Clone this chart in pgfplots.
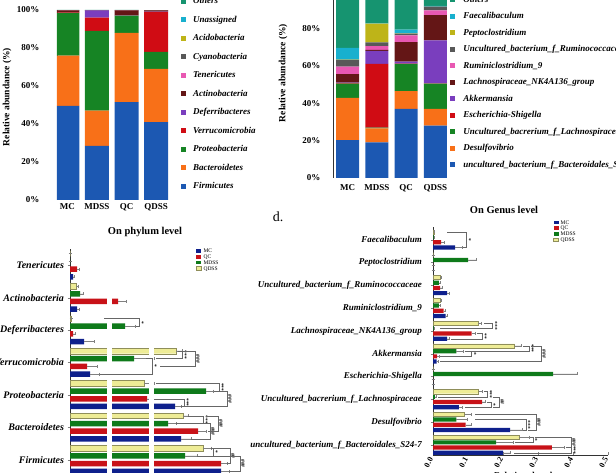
\documentclass[border=0pt]{standalone}
\usepackage{pgfplots}
\pgfplotsset{compat=1.18}
\usepackage{fontspec}
\setmainfont{Liberation Serif}
\definecolor{cFirm}{RGB}{28,88,178}
\definecolor{cBact}{RGB}{248,112,24}
\definecolor{cProt}{RGB}{22,132,36}
\definecolor{cVerr}{RGB}{208,12,20}
\definecolor{cDefe}{RGB}{122,62,190}
\definecolor{cActi}{RGB}{100,22,22}
\definecolor{cTene}{RGB}{232,88,178}
\definecolor{cCyan}{RGB}{88,88,88}
\definecolor{cAcid}{RGB}{190,180,24}
\definecolor{cUnas}{RGB}{24,176,206}
\definecolor{cOthe}{RGB}{22,148,112}
\definecolor{cMC}{RGB}{14,32,140}
\definecolor{cQC}{RGB}{200,18,24}
\definecolor{cMDSS}{RGB}{14,122,26}
\definecolor{cQDSS}{RGB}{238,236,150}
\newcommand\bi{\bfseries\itshape}
% bracket: xv, xa, ya, xb, yb, label
\newcommand\brk[6]{%
  \draw[black!60,line width=0.4pt] (axis cs:#2,#3) -- (axis cs:#1,#3) -- (axis cs:#1,#5) -- (axis cs:#4,#5);
  \path (axis cs:#1,#3) -- (axis cs:#1,#5) node[midway,rotate=-90,anchor=south,inner sep=0.8pt,font=\fontsize{5.5}{5}\selectfont\bfseries] {#6};}
\pgfplotsset{
  sq/.style={legend image code/.code={\path[##1,draw=none] (0pt,-2.5pt) rectangle (5pt,2.5pt);}},
  sqs/.style={legend image code/.code={\path[##1] (0pt,-1.8pt) rectangle (5pt,1.8pt);}},
  eb/.style={error bars/.cd, x dir=plus, x explicit, error bar style={gray,line width=0.4pt}, error mark options={rotate=90,gray,mark size=1.5pt}},
}
\begin{document}
\begin{tikzpicture}[x=1pt,y=1pt]
\useasboundingbox (0pt,0pt) rectangle (616pt,473pt);
\clip (0pt,0pt) rectangle (616pt,473pt);

% ---------- Panel A: phylum stacked ----------
\begin{axis}[at={(57pt,273pt)}, anchor=south west, scale only axis, width=114pt, height=190pt,
  ybar stacked, bar width=24pt, xmin=-0.35, xmax=3.5, ymin=0, ymax=100,
  axis lines*=left, x axis line style={draw=none},
  xtick={0,1,2,3}, xticklabels={MC,MDSS,QC,QDSS}, xtick style={draw=none},
  ytick={0,20,40,60,80,100}, yticklabels={0\%,20\%,40\%,60\%,80\%,100\%}, ytick style={draw=none},
  yticklabel style={xshift=-14pt},
  tick label style={font=\fontsize{9}{10}\selectfont\bfseries},
  axis line style={line width=0.8pt, black!80},
  legend reversed, legend cell align=left, sq,
  legend style={at={(1.06,1.08)}, anchor=north west, draw=none, fill=none,
    font=\fontsize{9}{10}\selectfont\bi, row sep=9.5pt, column sep=7pt,
    nodes={inner sep=0pt, text height=7pt, text depth=2pt}},
]
\addplot[fill=cFirm,draw=none] coordinates {(0,49.5) (1,28.5) (2,51.5) (3,41)};
\addlegendentry{Firmicutes}
\addplot[fill=cBact,draw=none] coordinates {(0,26.5) (1,18.5) (2,36.5) (3,28)};
\addlegendentry{Bacteroidetes}
\addplot[fill=cProt,draw=none] coordinates {(0,22.5) (1,42) (2,9) (3,9)};
\addlegendentry{Proteobacteria}
\addplot[fill=cVerr,draw=none] coordinates {(0,0.2) (1,7) (2,0.1) (3,21)};
\addlegendentry{Verrucomicrobia}
\addplot[fill=cDefe,draw=none] coordinates {(0,0.1) (1,3.8) (2,0.1) (3,0.1)};
\addlegendentry{Deferribacteres}
\addplot[fill=cActi,draw=none] coordinates {(0,1) (1,0.1) (2,2.6) (3,0.7)};
\addlegendentry{Actinobacteria}
\addplot[fill=cTene,draw=none] coordinates {(0,0.1) (1,0.05) (2,0.1) (3,0.05)};
\addlegendentry{Tenericutes}
\addplot[fill=cCyan,draw=none] coordinates {(0,0.05) (1,0.02) (2,0.02) (3,0.02)};
\addlegendentry{Cyanobacteria}
\addplot[fill=cAcid,draw=none] coordinates {(0,0.01) (1,0.01) (2,0.01) (3,0.01)};
\addlegendentry{Acidobacteria}
\addplot[fill=cUnas,draw=none] coordinates {(0,0.01) (1,0.01) (2,0.01) (3,0.01)};
\addlegendentry{Unassigned}
\addplot[fill=cOthe,draw=none] coordinates {(0,0.03) (1,0.02) (2,0.06) (3,0.06)};
\addlegendentry{Others}
\end{axis}
\node[rotate=90, font=\fontsize{9.5}{10}\selectfont\bfseries] at (7pt,376pt) {Relative abundance (\%)};
\node[font=\fontsize{10.5}{11}\selectfont\bfseries] at (145pt,241pt) {On phylum level};
\node[font=\fontsize{14}{15}\selectfont] at (278pt,256pt) {d.};

% ---------- Panel B: genus stacked ----------
\begin{axis}[at={(333pt,295pt)}, anchor=south west, scale only axis, width=117pt, height=187pt,
  ybar stacked, bar width=23pt, xmin=-0.5, xmax=3.5, ymin=0, ymax=100,
  axis lines*=left, x axis line style={draw=none},
  xtick={0,1,2,3}, xticklabels={MC,MDSS,QC,QDSS}, xtick style={draw=none},
  xticklabel style={yshift=-3pt},
  ytick={0,20,40,60,80,100}, yticklabels={0\%,20\%,40\%,60\%,80\%,100\%}, ytick style={draw=none},
  yticklabel style={xshift=-9pt},
  tick label style={font=\fontsize{9}{10}\selectfont\bfseries},
  axis line style={line width=0.8pt, black!80},
  legend reversed, legend cell align=left, sq,
  legend style={at={(0.975,0.99)}, anchor=north west, draw=none, fill=none,
    font=\fontsize{9}{10}\selectfont\bi, row sep=7.5pt, column sep=8pt,
    nodes={inner sep=0pt, text height=7pt, text depth=2pt}},
]
\addplot[fill=cFirm,draw=none] coordinates {(0,20.2) (1,19) (2,37) (3,28)};
\addlegendentry{uncultured\_bacterium\_f\_Bacteroidales\_S24-7}
\addplot[fill=cBact,draw=none] coordinates {(0,22.6) (1,7.5) (2,9.5) (3,9)};
\addlegendentry{Desulfovibrio}
\addplot[fill=cProt,draw=none] coordinates {(0,7.6) (1,0.5) (2,14.5) (3,13.5)};
\addlegendentry{Uncultured\_bacrerium\_f\_Lachnospiraceae}
\addplot[fill=cVerr,draw=none] coordinates {(0,0.3) (1,34) (2,0.2) (3,0.1)};
\addlegendentry{Escherichia-Shigella}
\addplot[fill=cDefe,draw=none] coordinates {(0,0.3) (1,7) (2,1) (3,23)};
\addlegendentry{Akkermansia}
\addplot[fill=cActi,draw=none] coordinates {(0,4.5) (1,0.5) (2,10.5) (3,13.5)};
\addlegendentry{Lachnospiraceae\_NK4A136\_group}
\addplot[fill=cTene,draw=none] coordinates {(0,4) (1,2) (2,3.5) (3,2.5)};
\addlegendentry{Ruminiclostridium\_9}
\addplot[fill=cCyan,draw=none] coordinates {(0,3.7) (1,2) (2,1) (3,2)};
\addlegendentry{Uncultured\_bacterium\_f\_Ruminococcaceae}
\addplot[fill=cAcid,draw=none] coordinates {(0,0.1) (1,10) (2,0.1) (3,0.1)};
\addlegendentry{Peptoclostridium}
\addplot[fill=cUnas,draw=none] coordinates {(0,6.3) (1,0.2) (2,2) (3,0.3)};
\addlegendentry{Faecalibaculum}
\addplot[fill=cOthe,draw=none] coordinates {(0,30.4) (1,17.3) (2,20.7) (3,8)};
\addlegendentry{Others}
\end{axis}
\node[rotate=90, font=\fontsize{9.5}{10}\selectfont\bfseries] at (283pt,400pt) {Relative abundance (\%)};
\node[font=\fontsize{10.5}{11}\selectfont\bfseries] at (504pt,263pt) {On Genus level};

% ---------- Panel C: phylum bars ----------
\begin{axis}[at={(70pt,-3pt)}, anchor=south west, scale only axis, width=230pt, height=227pt,
  xbar=2.2pt, bar width=5.5pt, xmin=0, xmax=230, ymin=-0.5, ymax=6.5,
  axis lines*=left, x axis line style={draw=none}, xtick=\empty,
  ytick={0,...,6},
  yticklabels={Firmicutes,Bacteroidetes,Proteobacteria,Verrucomicrobia,Deferribacteres,Actinobacteria,Tenericutes},
  yticklabel style={font=\fontsize{10}{11}\selectfont\bi},
  major tick length=2.5pt, axis line style={black!80}, clip=false,
  legend cell align=left, sqs,
  legend style={at={(0.535,1.01)}, anchor=north west, draw=none, fill=none,
    font=\fontsize{5.5}{6}\selectfont, row sep=1.2pt, column sep=2pt,
    nodes={inner sep=0pt, text height=4pt, text depth=0.5pt}},
]
\addplot[fill=cMC,draw=none,eb] coordinates {(151,0)+-(8,0) (111,1)+-(10,0) (105,2)+-(6,0) (20,3)+-(9,0) (14,4)+-(10,0) (7,5)+-(2,0) (3,6)+-(1,0)};
\addlegendentry{MC}
\addplot[fill=cQC,draw=none,eb] coordinates {(151,0)+-(6,0) (128,1)+-(8,0) (77,2)+-(5,0) (17,3)+-(10,0) (3,4)+-(2,0) (48,5)+-(8,0) (7,6)+-(2,0)};
\addlegendentry{QC}
\addplot[fill=cMDSS,draw=none,eb] coordinates {(115,0)+-(12,0) (98,1)+-(8,0) (136,2)+-(7,0) (64,3)+-(20,0) (55,4)+-(10,0) (10,5)+-(3,0) (0,6)+-(0,0)};
\addlegendentry{MDSS}
\addplot[fill=cQDSS,draw=cQDSS!60!black,line width=0.3pt,eb] coordinates {(133,0)+-(8,0) (113,1)+-(5,0) (74,2)+-(10,0) (106,3)+-(6,0) (1,4)+-(0,0) (6,5)+-(2,0) (0,6)+-(0,0)};
\addlegendentry{QDSS}
\fill[white] (axis cs:37,-0.5) rectangle (axis cs:41.5,6.45);
\fill[white] (axis cs:79,-0.5) rectangle (axis cs:83.5,6.45);
\brk{69}{34}{4.355}{66}{4.118}{*}
\brk{112}{108}{3.355}{86}{3.118}{***}
\brk{125}{113}{3.355}{90}{2.882}{\#\#\#}
\brk{82}{76}{3.118}{30}{2.645}{*}
\brk{149}{86}{2.355}{144}{2.118}{***}
\brk{157}{144}{2.118}{112}{1.645}{\#\#\#}
\brk{114}{84}{1.882}{111}{1.645}{***}
\brk{133}{118}{1.355}{106}{1.118}{***}
\brk{140}{106}{1.118}{121}{0.645}{\#\#\#}
\brk{148}{136}{1.355}{138}{0.882}{\#\#\#}
\brk{143}{141}{0.355}{127}{0.118}{*}
\brk{160}{143}{0.355}{157}{-0.118}{\#\#}
\brk{170}{128}{0.118}{159}{-0.355}{\#\#\#}
\end{axis}

% ---------- Panel D: genus bars ----------
\begin{axis}[at={(433pt,18pt)}, anchor=south west, scale only axis, width=175pt, height=227.8pt,
  xbar=1pt, bar width=4.2pt, xmin=0, xmax=0.5, ymin=-0.44, ymax=9.55,
  axis lines*=left, axis line style={black!80}, clip=false,
  xtick={0,0.1,0.2,0.3,0.4,0.5}, xticklabels={0.0,0.1,0.2,0.3,0.4,0.5},
  xticklabel style={rotate=60, anchor=east, font=\fontsize{8}{9}\selectfont\bfseries},
  ytick={0,...,9},
  yticklabels={uncultured\_bacterium\_f\_Bacteroidales\_S24-7,Desulfovibrio,Uncultured\_bacrerium\_f\_Lachnospiraceae,Escherichia-Shigella,Akkermansia,Lachnospiraceae\_NK4A136\_group,Ruminiclostridium\_9,Uncultured\_bacterium\_f\_Ruminococcaceae,Peptoclostridium,Faecalibaculum},
  yticklabel style={font=\fontsize{9}{10}\selectfont\bi, xshift=-5pt},
  major tick length=2.5pt,
  legend cell align=left, sqs,
  legend style={at={(0.67,1.04)}, anchor=north west, draw=none, fill=none,
    font=\fontsize{5.5}{6}\selectfont, row sep=1.2pt, column sep=2pt,
    nodes={inner sep=0pt, text height=4pt, text depth=0.5pt}},
]
\addplot[fill=cMC,draw=none,eb] coordinates {(0.20,0)+-(0.02,0) (0.22,1)+-(0.035,0) (0.074,2)+-(0.01,0) (0,3)+-(0,0) (0.01,4)+-(0.005,0) (0.04,5)+-(0.005,0) (0.036,6)+-(0.004,0) (0.04,7)+-(0.005,0) (0,8)+-(0,0) (0.063,9)+-(0.02,0)};
\addlegendentry{MC}
\addplot[fill=cQC,draw=none,eb] coordinates {(0.34,0)+-(0.035,0) (0.093,1)+-(0.015,0) (0.14,2)+-(0.01,0) (0,3)+-(0,0) (0.012,4)+-(0.005,0) (0.11,5)+-(0.01,0) (0.03,6)+-(0.005,0) (0.02,7)+-(0.005,0) (0,8)+-(0,0) (0.023,9)+-(0.008,0)};
\addlegendentry{QC}
\addplot[fill=cMDSS,draw=none,eb] coordinates {(0.18,0)+-(0.05,0) (0.067,1)+-(0.03,0) (0.005,2)+-(0.003,0) (0.343,3)+-(0.07,0) (0.067,4)+-(0.02,0) (0.002,5)+-(0.001,0) (0.017,6)+-(0.004,0) (0.017,7)+-(0.003,0) (0.10,8)+-(0.024,0) (0.002,9)+-(0.001,0)};
\addlegendentry{MDSS}
\addplot[fill=cQDSS,draw=cQDSS!60!black,line width=0.3pt,eb] coordinates {(0.245,0)+-(0.03,0) (0.09,1)+-(0.02,0) (0.13,2)+-(0.01,0) (0,3)+-(0,0) (0.233,4)+-(0.02,0) (0.128,5)+-(0.01,0) (0.02,6)+-(0.004,0) (0.02,7)+-(0.004,0) (0,8)+-(0,0) (0.002,9)+-(0.001,0)};
\addlegendentry{QDSS}
\brk{0.095}{0.04}{9.342}{0.085}{8.658}{*}
\brk{0.17}{0.145}{5.342}{0.02}{5.114}{***}
\brk{0.14}{0.125}{4.886}{0.05}{4.658}{**}
\brk{0.275}{0.257}{4.342}{0.09}{4.114}{***}
\brk{0.31}{0.28}{4.342}{0.02}{3.658}{\#\#\#}
\brk{0.11}{0.09}{4.114}{0.02}{3.886}{*}
\brk{0.155}{0.145}{2.342}{0.015}{2.114}{***}
\brk{0.165}{0.155}{1.886}{0.09}{1.658}{*}
\brk{0.19}{0.17}{2.114}{0.17}{1.658}{\#\#}
\brk{0.265}{0.12}{1.114}{0.258}{0.658}{***}
\brk{0.295}{0.12}{1.342}{0.27}{0.658}{\#\#\#}
\brk{0.285}{0.278}{0.342}{0.235}{0.114}{*}
\brk{0.395}{0.29}{0.342}{0.38}{-0.114}{\#\#\#}
\brk{0.395}{0.38}{-0.114}{0.23}{-0.342}{***}
\end{axis}
\node[font=\fontsize{9}{10}\selectfont\bfseries] at (532pt,-2pt) {Relative abundance};
\end{tikzpicture}
\end{document}
